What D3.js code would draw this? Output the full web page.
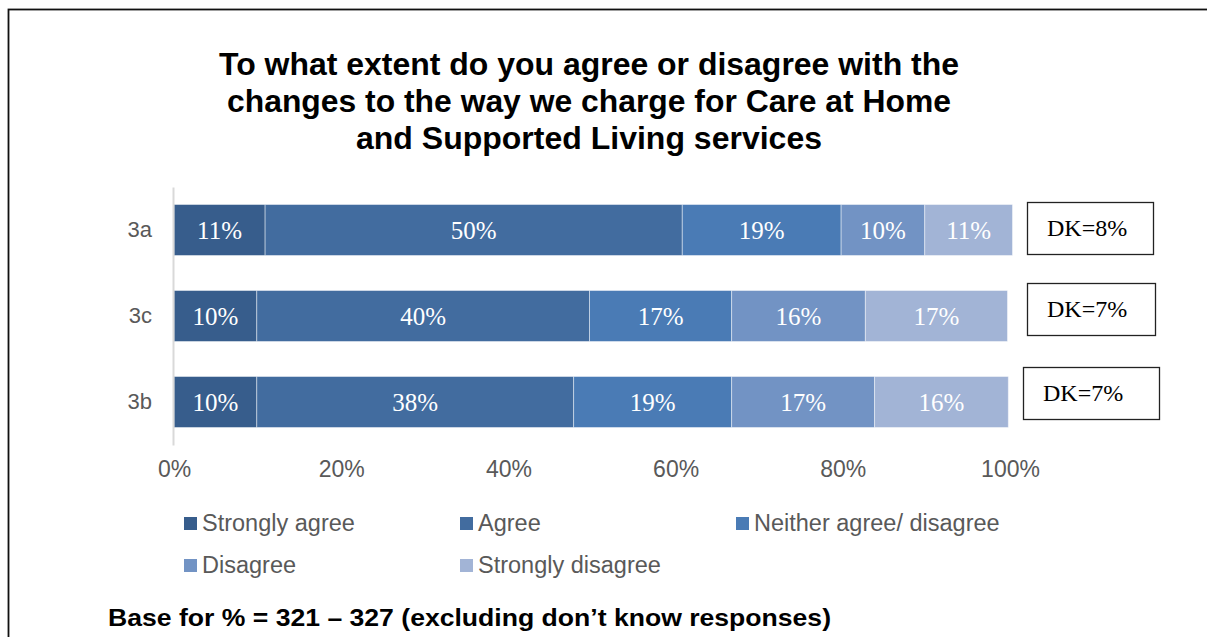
<!DOCTYPE html>
<html>
<head>
<meta charset="utf-8">
<script src="https://cdn.jsdelivr.net/npm/d3@7"></script>
<style>
  html, body { margin: 0; padding: 0; background: #fff; }
  svg { display: block; }
</style>
</head>
<body>
<svg id="chart" width="1207" height="637"></svg>
<script>
// Survey items, top to bottom
const categories = ["3a", "3c", "3b"];

// Response options (stack order, left to right)
const responses = ["Strongly agree", "Agree", "Neither agree/ disagree", "Disagree", "Strongly disagree"];

// Share of respondents (%) per item, one array per response option
const stronglyAgree    = [10.9,  9.9,  9.9];
const agree            = [49.9, 39.8, 37.9];
const neither          = [19.0, 17.0, 18.9];
const disagree         = [10.0, 16.0, 17.1];
const stronglyDisagree = [10.5, 17.0, 16.0];

// "Don't know" share shown beside each bar
const dontKnow = [8, 7, 7];

// Axis tick values (%)
const ticks = [0, 20, 40, 60, 80, 100];

const titleLines = [
  "To what extent do you agree or disagree with the",
  "changes to the way we charge for Care at Home",
  "and Supported Living services"
];
const footnote = "Base for % = 321 \u2013 327 (excluding don\u2019t know responses)";

const colors = ["#375d8c", "#426c9f", "#4a7bb5", "#7293c4", "#a2b4d6"];

const seriesValues = [stronglyAgree, agree, neither, disagree, stronglyDisagree];
const rows = categories.map((c, i) => {
  const r = { cat: c };
  responses.forEach((s, k) => { r[s] = seriesValues[k][i]; });
  return r;
});

const svg = d3.select("#chart");

// Outer frame (runs past the right and bottom edges)
svg.append("rect")
  .attr("x", 8.5).attr("y", 9.5)
  .attr("width", 1220).attr("height", 660)
  .attr("fill", "none").attr("stroke", "#111").attr("stroke-width", 1.8);

// Title
const title = svg.append("g")
  .attr("font-family", "Liberation Sans, Arial, sans-serif")
  .attr("font-weight", "bold")
  .attr("font-size", 31)
  .attr("fill", "#000")
  .attr("text-anchor", "middle");
const titleWidths = [740, 724, 466];
titleLines.forEach((t, i) => {
  title.append("text")
    .attr("x", 589).attr("y", 75 + i * 37)
    .attr("textLength", titleWidths[i])
    .attr("lengthAdjust", "spacingAndGlyphs")
    .text(t);
});

// Scales
const x = d3.scaleLinear().domain([0, 100]).range([174, 1010]);
const y = d3.scaleBand().domain(categories).range([187, 445])
  .paddingInner(0.407).paddingOuter(0.2035);
const color = d3.scaleOrdinal().domain(responses).range(colors);

const stacked = d3.stack().keys(responses)(rows);

// Bars
const layers = svg.append("g").selectAll("g")
  .data(stacked)
  .join("g")
  .attr("fill", d => color(d.key));

layers.selectAll("rect")
  .data(d => d.map(p => ({ key: d.key, p })))
  .join("rect")
  .attr("x", d => x(d.p[0]))
  .attr("y", d => y(d.p.data.cat))
  .attr("width", d => x(d.p[1]) - x(d.p[0]))
  .attr("height", y.bandwidth())
  .attr("stroke", "rgba(255,255,255,0.45)")
  .attr("stroke-width", 1);

// Value labels in each segment
layers.selectAll("text")
  .data(d => d.map(p => ({ key: d.key, p })))
  .join("text")
  .attr("x", d => (x(d.p[0]) + x(d.p[1])) / 2)
  .attr("y", d => y(d.p.data.cat) + y.bandwidth() / 2)
  .attr("dy", "0.35em")
  .attr("text-anchor", "middle")
  .attr("font-family", "Liberation Serif, Times New Roman, serif")
  .attr("font-size", 25)
  .attr("fill", "#fff")
  .text(d => Math.round(d.p[1] - d.p[0]) + "%");

// Category axis
const yAxis = svg.append("g")
  .attr("transform", "translate(173,0)")
  .call(d3.axisLeft(y).tickSize(0).tickPadding(21));
yAxis.select(".domain").attr("stroke", "#d9d9d9").attr("stroke-width", 2);
yAxis.selectAll("text")
  .attr("font-family", "Liberation Sans, Arial, sans-serif")
  .attr("font-size", 22)
  .attr("fill", "#595959");

// Value axis labels
const xAxis = svg.append("g")
  .attr("transform", "translate(0,461)")
  .call(d3.axisBottom(x).tickValues(ticks).tickSize(0).tickPadding(0)
    .tickFormat(d => d + "%"));
xAxis.select(".domain").remove();
xAxis.selectAll("text")
  .attr("font-family", "Liberation Sans, Arial, sans-serif")
  .attr("font-size", 23)
  .attr("fill", "#595959");

// "Don't know" boxes
const dkBoxes = [
  { x: 1027, w: 126 },
  { x: 1027, w: 128 },
  { x: 1023, w: 136 }
];
const dkOffsets = [-2, -7, -9];
const dk = svg.append("g");
categories.forEach((c, i) => {
  const cy = y(c) + y.bandwidth() / 2 + dkOffsets[i];
  dk.append("rect")
    .attr("x", dkBoxes[i].x + 0.5).attr("y", cy - 26 + 0.5)
    .attr("width", dkBoxes[i].w).attr("height", 52)
    .attr("fill", "#fff").attr("stroke", "#222").attr("stroke-width", 1.3);
  dk.append("text")
    .attr("x", dkBoxes[i].x + 20)
    .attr("y", cy)
    .attr("dy", "0.35em")
    .attr("font-family", "Liberation Serif, Times New Roman, serif")
    .attr("font-size", 24)
    .attr("fill", "#000")
    .text("DK=" + dontKnow[i] + "%");
});

// Legend
const legend = svg.append("g")
  .attr("font-family", "Liberation Sans, Arial, sans-serif")
  .attr("font-size", 23.5)
  .attr("fill", "#595959");
responses.forEach((r, i) => {
  const col = i % 3, row = Math.floor(i / 3);
  const lx = 184 + col * 276, baseline = 531 + row * 42;
  legend.append("rect")
    .attr("x", lx).attr("y", baseline - 14)
    .attr("width", 13).attr("height", 13)
    .attr("fill", colors[i]);
  legend.append("text")
    .attr("x", lx + 18).attr("y", baseline)
    .text(r);
});

// Base note
svg.append("text")
  .attr("x", 108).attr("y", 626)
  .attr("font-family", "Liberation Sans, Arial, sans-serif")
  .attr("font-weight", "bold")
  .attr("font-size", 24)
  .attr("fill", "#000")
  .attr("textLength", 723)
  .attr("lengthAdjust", "spacingAndGlyphs")
  .text(footnote);
</script>
</body>
</html>
